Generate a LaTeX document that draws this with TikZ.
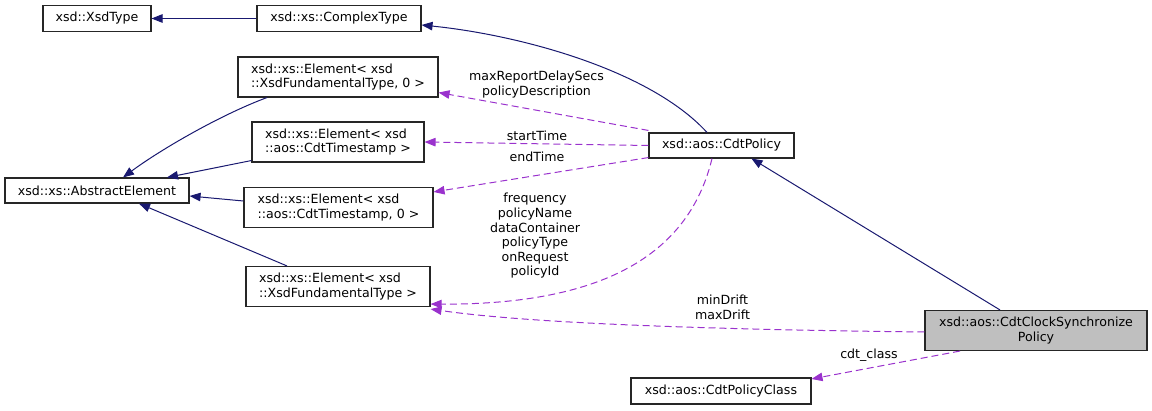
\documentclass[tikz,border=0pt]{standalone}
\usepackage{fontspec}
\setmainfont{DejaVu Sans}
\usetikzlibrary{arrows.meta}
\definecolor{inhblue}{HTML}{191970}
\definecolor{usepurple}{HTML}{9A32CD}
\begin{document}
\begin{tikzpicture}[x=1pt, y=-1pt, every node/.style={font=\fontsize{12.6}{14.6}\selectfont},
  box/.style={draw=black!85,line width=1.1pt,fill=white,inner sep=0pt,minimum height=26pt},
  box2/.style={box,minimum height=40pt,align=left},
  inh/.style={inhblue,line width=1pt,-{Triangle[length=11pt,width=8.5pt]}},
  uses/.style={usepurple,line width=1pt,dash pattern=on 7pt off 4pt,-{Triangle[length=11pt,width=8.5pt]}},
  lbl/.style={inner sep=0pt,align=center}]
\useasboundingbox (0,0) rectangle (1152,411);
% classes
\node[box,minimum width=108pt] (xsdtype) at (97,18.5) {xsd::XsdType};
\node[box,minimum width=164pt] (cplx) at (339,18.5) {xsd::xs::ComplexType};
\node[box2,minimum width=200pt] (elfund0) at (338,77) {xsd::xs::Element< xsd\\::XsdFundamentalType, 0 >};
\node[box2,minimum width=172pt] (elts) at (338,142) {xsd::xs::Element< xsd\\::aos::CdtTimestamp >};
\node[box,minimum width=184pt,minimum height=25pt] (absel) at (97,190.5) {xsd::xs::AbstractElement};
\node[box2,minimum width=189pt] (elts0) at (338.5,207.5) {xsd::xs::Element< xsd\\::aos::CdtTimestamp, 0 >};
\node[box2,minimum width=184pt] (elfund) at (338,286.5) {xsd::xs::Element< xsd\\::XsdFundamentalType >};
\node[box,minimum width=145pt,minimum height=25pt] (pol) at (721.5,145.5) {xsd::aos::CdtPolicy};
\node[box2,minimum width=222pt,align=center,fill=black!25] (clk) at (1036,330.5) {xsd::aos::CdtClockSynchronize\\Policy};
\node[box,minimum width=180pt] (pcls) at (721,391) {xsd::aos::CdtPolicyClass};
% inheritance
\draw[inh] (cplx.west) -- (xsdtype.east);
\draw[inh] ([xshift=-14.5pt]pol.north) .. controls (650,70) and (520,35) .. ([yshift=-6.5pt]cplx.east);
\draw[inh] ([xshift=-36pt]clk.north) -- ([xshift=30pt]pol.south);
\draw[inh] ([xshift=-71pt]elfund0.south) .. controls (220,115) and (160,150) .. ([xshift=26pt]absel.north);
\draw[inh] ([yshift=2pt]elts.south west) -- ([xshift=70pt]absel.north);
\draw[inh] ([yshift=6.5pt]elts0.west) -- ([yshift=-5.5pt]absel.east);
\draw[inh] ([xshift=-51pt]elfund.north) -- ([xshift=42pt]absel.south);
% usage
\draw[uses] ([yshift=2pt]pol.north west) -- ([yshift=5pt]elfund0.south east);
\node[lbl] (lblA) at (536.5,84.5) {maxReportDelaySecs\\policyDescription};
\draw[uses] (pol.west) -- (elts.east);
\node[lbl] (lblB) at (537,136) {startTime};
\draw[uses] ([yshift=1pt]pol.south west) -- ([yshift=-5pt]elts0.north east);
\node[lbl] (lblC) at (537,157) {endTime};
\draw[uses] ([xshift=-9.5pt]pol.south) .. controls (690,250) and (610,305) .. ([yshift=3pt]elfund.south east);
\node[lbl] (lblD) at (535,236) {frequency\\policyName\\dataContainer\\policyType\\onRequest\\policyId};
\draw[uses] ([yshift=-1.5pt]clk.west) .. controls (750,330) and (540,325) .. ([yshift=-2pt]elfund.south east);
\node[lbl] (lblE) at (722.5,307.5) {minDrift\\maxDrift};
\draw[uses] ([xshift=-76pt]clk.south) -- ([yshift=-1.5pt]pcls.north east);
\node[lbl] (lblF) at (869,355) {cdt\_class};
\end{tikzpicture}
\end{document}
